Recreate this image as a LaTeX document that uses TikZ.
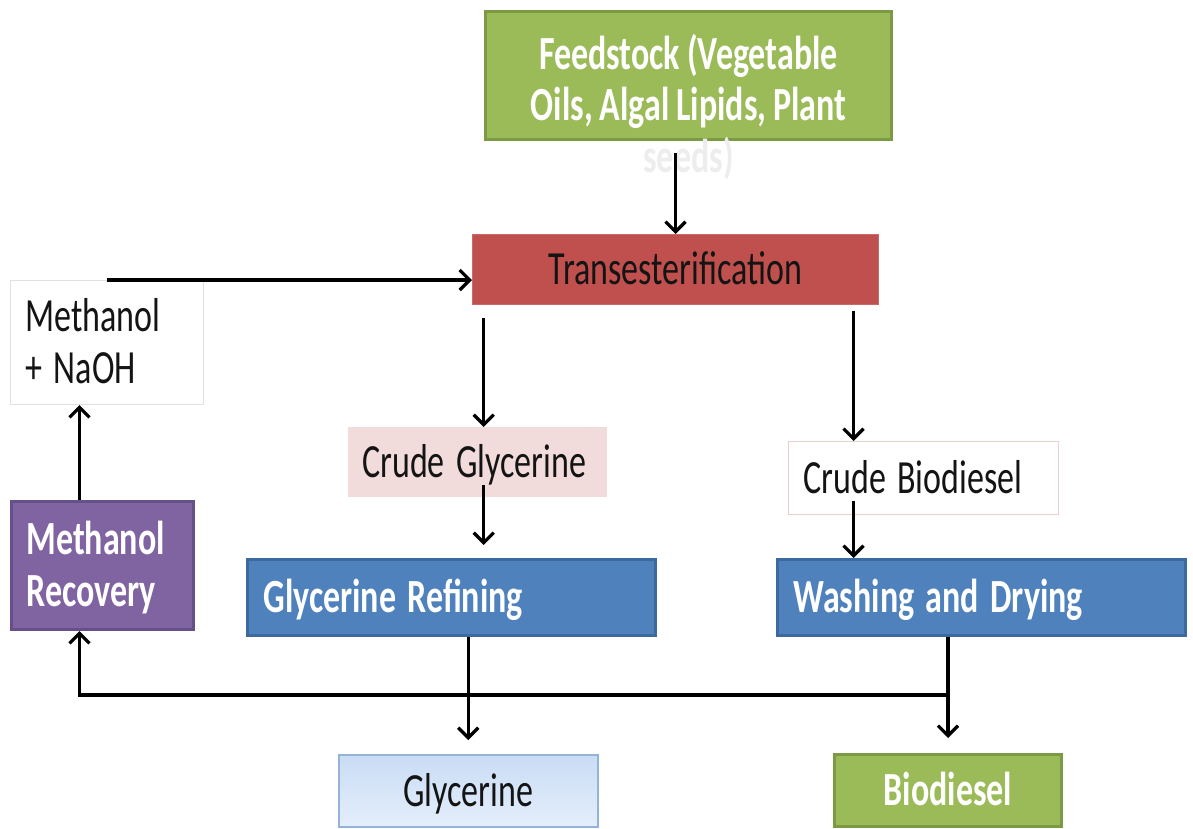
\documentclass[tikz,border=0pt]{standalone}
\usepackage{graphicx}
\usepackage{fontspec}
\setmainfont{Carlito}[WordSpace=0.45, BoldFeatures={WordSpace=0.9}]
\usetikzlibrary{arrows.meta}
\definecolor{feedgreen}{HTML}{9BBB59}
\definecolor{feedgreenline}{HTML}{7C9A44}
\definecolor{transred}{HTML}{C0504D}
\definecolor{procblue}{HTML}{4F81BD}
\definecolor{procblueline}{HTML}{3C6A9E}
\definecolor{recpurple}{HTML}{8064A2}
\definecolor{recpurpleline}{HTML}{66508A}
\definecolor{crudepink}{HTML}{F2DCDB}
\definecolor{crudeline}{HTML}{EBCFCE}
\definecolor{glyctop}{HTML}{C9DCF5}
\definecolor{glycbot}{HTML}{E4EEFB}
\definecolor{glycline}{HTML}{95B3D7}
\definecolor{txtdark}{HTML}{141414}
% tall, narrow lettering: text set at 34pt, stretched vertically and lowered a little
\newcommand\talltext[2][l]{\raisebox{-5pt}[\height][\depth]{\scalebox{1}[1.4]{\begin{tabular}{@{}#1@{}}#2\end{tabular}}}}
\begin{document}
\begin{tikzpicture}[x=1pt,y=-1pt,
  every node/.style={font=\fontsize{34}{37}\selectfont, inner sep=0pt},
  box/.style={rectangle, anchor=north west},
  leftbox/.style={box, inner xsep=15pt, align=left},
  whitetext/.style={text=white, font=\fontsize{34}{37}\selectfont\bfseries},
  darktext/.style={text=txtdark},
  greenbox/.style={box, fill=feedgreen, draw=feedgreenline, line width=3pt, whitetext},
  bluebox/.style={leftbox, inner xsep=16pt, fill=procblue, draw=procblueline, line width=3pt, whitetext},
  arr/.style={line width=3.3pt, -{Straight Barb[length=10pt,width=20pt]}}
]
\useasboundingbox (0,0) rectangle (1193,828);

% process boxes
\node (feed) [greenbox, minimum width=406pt, minimum height=128pt] at (484,10) {};
\node (feedtext) [whitetext] at ([yshift=-30pt]feed.center)
  {\talltext[c]{Feedstock (Vegetable\\Oils, Algal Lipids, Plant\\\textcolor{black!7}{seeds)}}};
\node (trans) [box, fill=transred, draw=transred!85!white, line width=1pt, darktext,
  minimum width=406pt, minimum height=70pt] at (472,234) {\talltext{Transesterification}};
\node (meth) [leftbox, fill=white, draw=black!12, line width=1pt, darktext,
  text width=163pt, minimum height=124pt] at (10,280) {\talltext{Methanol\\+ NaOH}};
\node (cg) [leftbox, inner xsep=14pt, fill=crudepink, darktext,
  text width=231pt, minimum height=70pt] at (348,427) {\talltext{Crude Glycerine}};
\node (cb) [leftbox, fill=white, draw=crudeline, line width=1pt, darktext,
  text width=240pt, minimum height=73pt] at (788,441) {\talltext{Crude Biodiesel}};
\node (mr) [leftbox, fill=recpurple, draw=recpurpleline, line width=3pt, whitetext,
  text width=152pt, minimum height=128pt] at (10,500) {\talltext{Methanol\\Recovery}};
\node (gr) [bluebox, text width=376pt, minimum height=76pt] at (246,558) {\talltext{Glycerine Refining}};
\node (wd) [bluebox, text width=376pt, minimum height=76pt] at (776,558) {\talltext{Washing and Drying}};

% products
\node (gly) [box, top color=glyctop, bottom color=glycbot, draw=glycline, line width=1.5pt, darktext,
  minimum width=259pt, minimum height=72pt] at (338,754) {\talltext{Glycerine}};
\node (bio) [greenbox, minimum width=227pt, minimum height=72pt] at (833,753) {\talltext{Biodiesel}};

% flows
\coordinate (cbx) at ([xshift=-70pt]cb.north);
\draw[arr] ([yshift=-12pt]feed.south -| trans.north) -- (trans.north);
\draw[arr] (meth.north) -- (meth.north -| trans.west);
\draw[arr] ([xshift=6pt,yshift=-13pt]trans.south -| cg.north) -- ([xshift=6pt]cg.north);
\draw[arr] ([xshift=6pt,yshift=12pt]cg.south) -- ([xshift=6pt,yshift=13pt]cg.south |- gr.north);
\draw[arr] ([yshift=-6pt]trans.south -| cbx) -- (cbx);
\draw[arr] ([xshift=-70pt,yshift=14pt]cb.south) -- (cbx |- wd.north);
\draw[arr] (gr.south -| gly.north) -- ([yshift=14pt]gly.north);
\draw[arr] (wd.south -| bio.north) -- ([yshift=15pt]bio.north);
\draw[arr] ([yshift=-58pt]wd.south -| bio.north) -| ([xshift=-23pt]mr.south);
\draw[arr] ([xshift=-23pt]mr.north) -- ([xshift=-23pt]mr.north |- meth.south);
\end{tikzpicture}
\end{document}
